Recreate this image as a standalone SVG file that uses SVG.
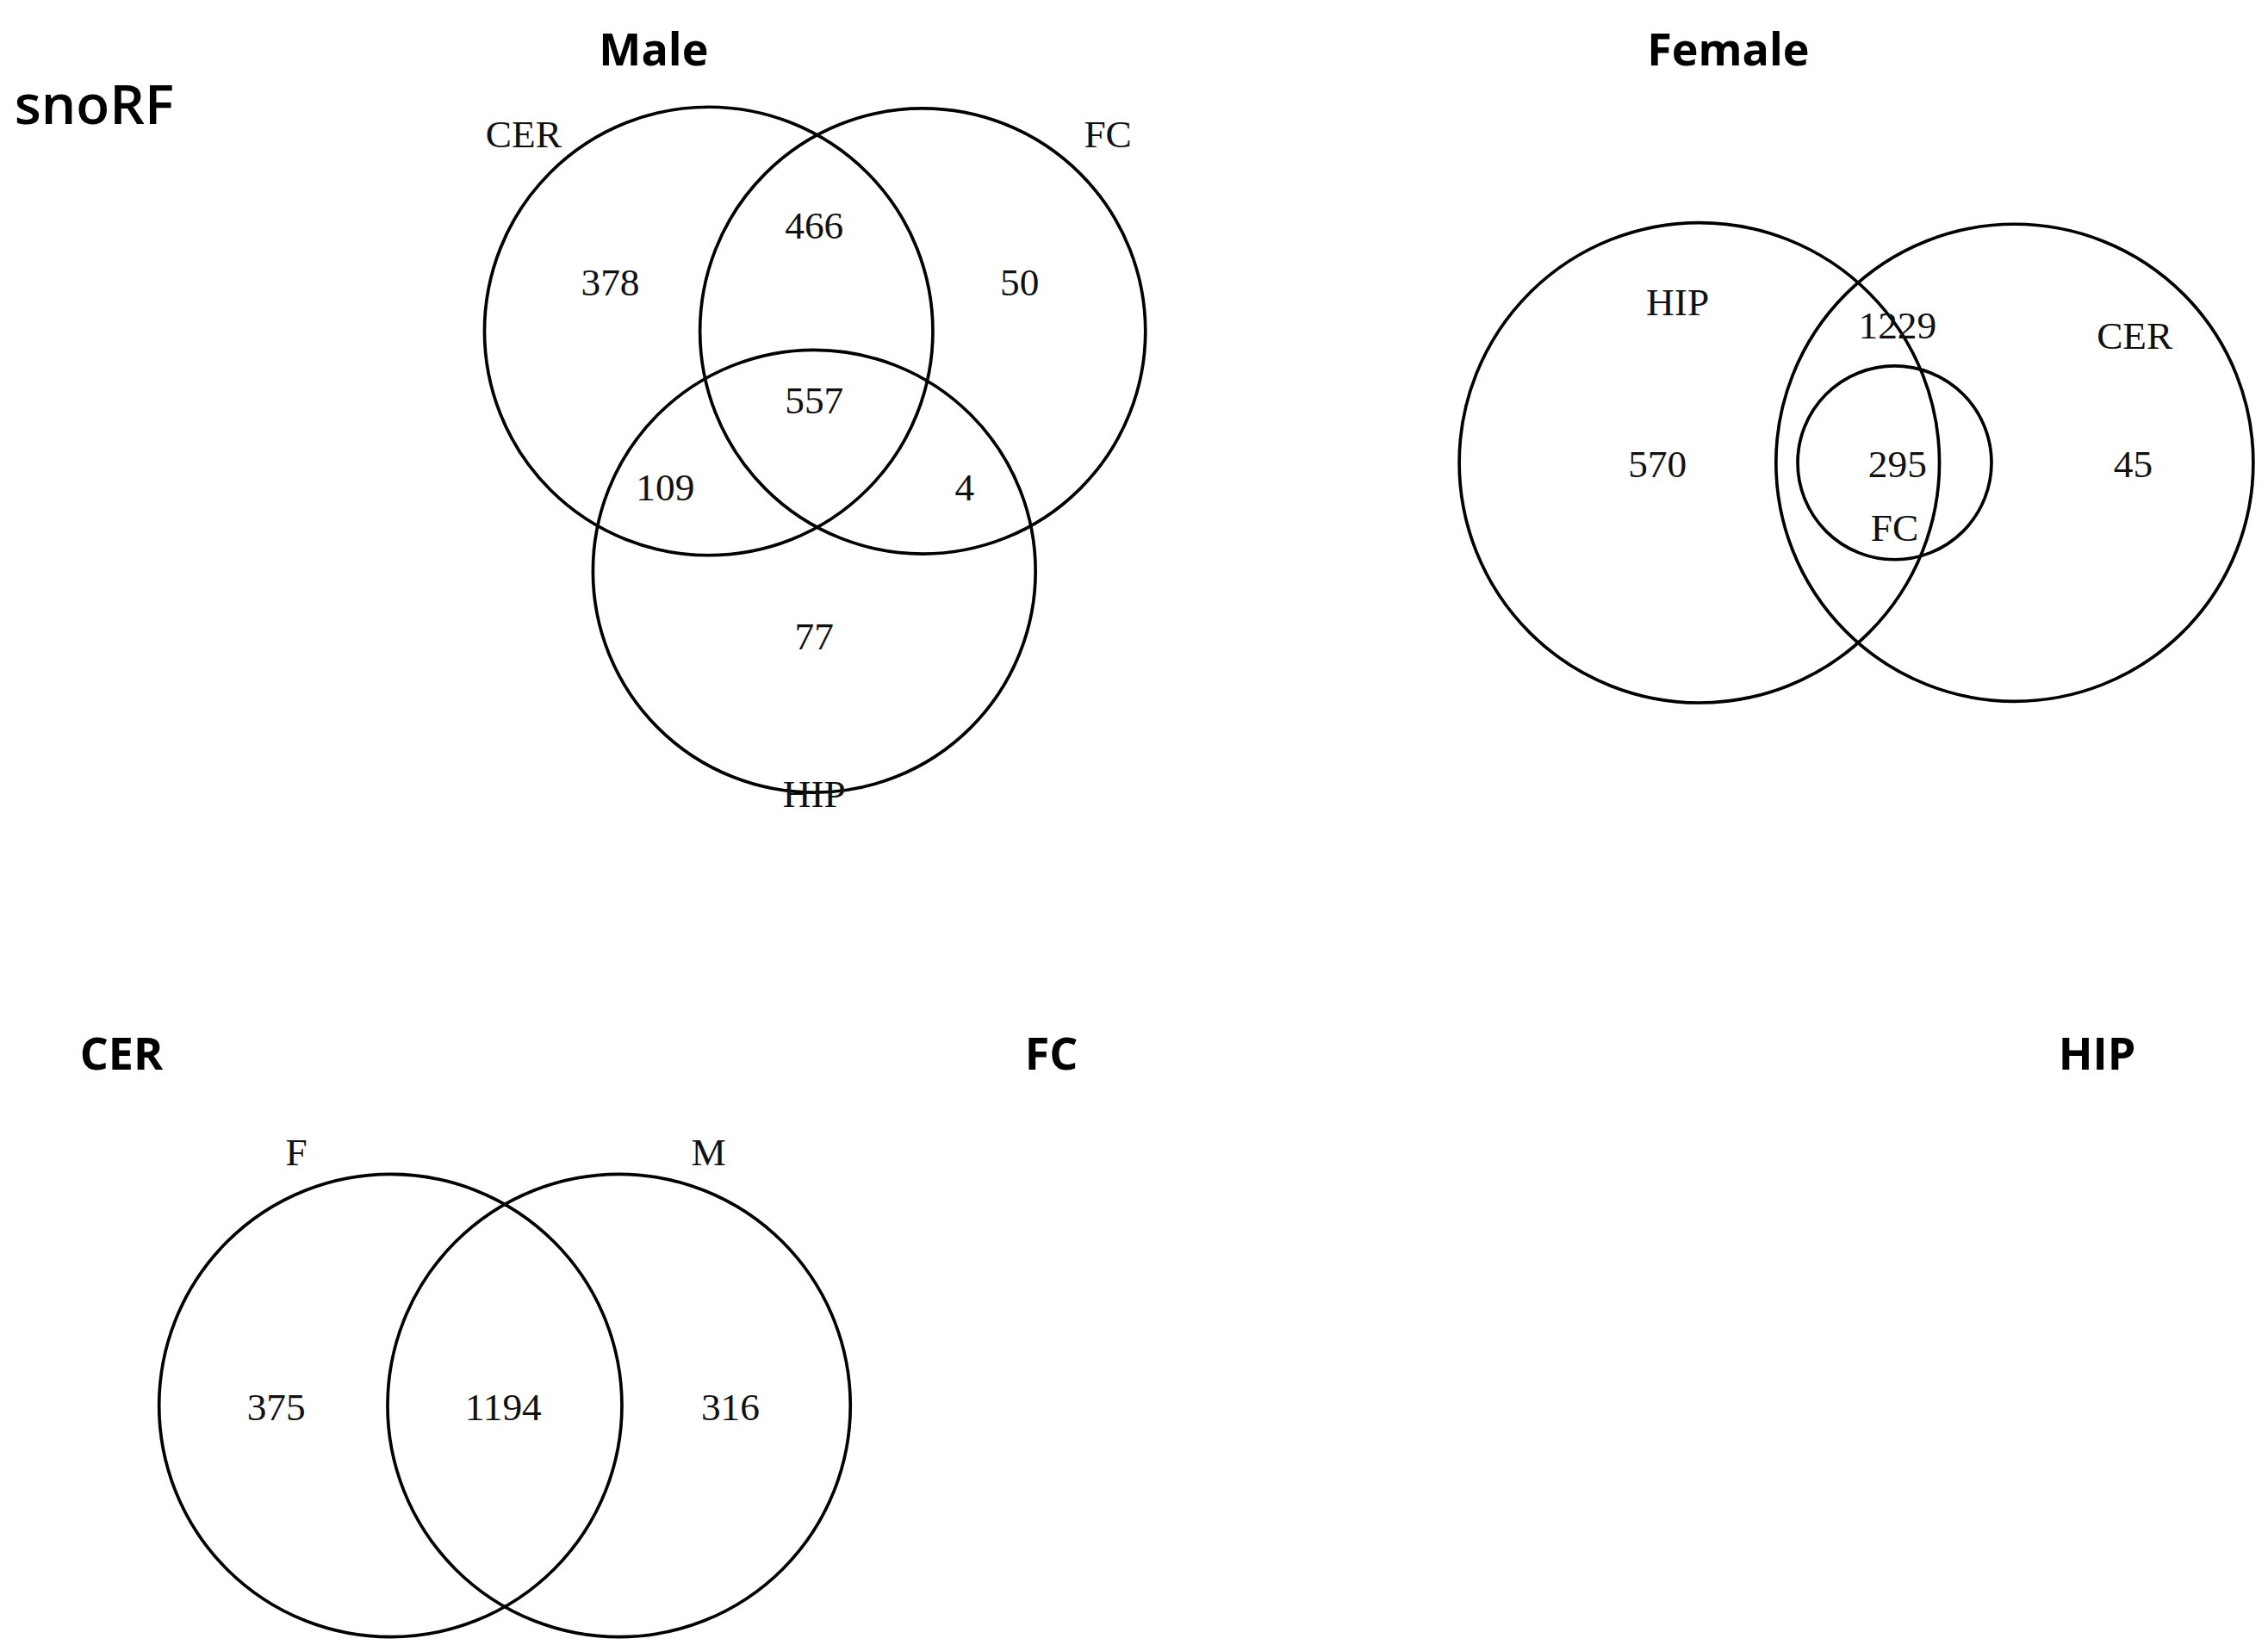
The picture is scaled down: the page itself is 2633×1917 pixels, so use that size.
<svg xmlns="http://www.w3.org/2000/svg" width="2633" height="1917" viewBox="0 0 2633 1917">
<style>
circle{fill:none;stroke:#000;stroke-width:2.2}
.s{font-family:"Liberation Serif",serif;font-size:27px;text-anchor:middle;fill:#111}
.h{font-family:"Open Sans","Liberation Sans",sans-serif;font-size:31px;font-weight:bold;text-anchor:middle}
</style>
<rect width="2633" height="1917" fill="#fff"/>
<g transform="scale(1.679)">
<text x="10" y="86" font-family="Open Sans, Liberation Sans, sans-serif" font-size="38" font-weight="600">snoRF</text>
<g id="male">
<text class="h" x="452" y="45">Male</text>
<circle cx="490" cy="229" r="155"/>
<circle cx="638" cy="229" r="154"/>
<circle cx="563" cy="395" r="153"/>
<text class="s" x="362" y="102">CER</text>
<text class="s" x="766" y="102">FC</text>
<text class="s" x="563" y="558">HIP</text>
<text class="s" x="422" y="204">378</text>
<text class="s" x="563" y="165">466</text>
<text class="s" x="705" y="204">50</text>
<text class="s" x="563" y="286">557</text>
<text class="s" x="460" y="346">109</text>
<text class="s" x="667" y="346">4</text>
<text class="s" x="563" y="449">77</text>
</g>
<g id="female">
<text class="h" x="1195" y="45">Female</text>
<circle cx="1175" cy="320" r="166"/>
<circle cx="1393" cy="320" r="165"/>
<circle cx="1310" cy="320" r="67"/>
<text class="s" x="1160" y="218">HIP</text>
<text class="s" x="1476" y="241">CER</text>
<text class="s" x="1312" y="234">1229</text>
<text class="s" x="1146" y="330">570</text>
<text class="s" x="1312" y="330">295</text>
<text class="s" x="1310" y="374">FC</text>
<text class="s" x="1475" y="330">45</text>
</g>
<g id="cer">
<text class="h" x="84" y="740">CER</text>
<circle cx="270" cy="972" r="160"/>
<circle cx="428" cy="972" r="160"/>
<text class="s" x="205" y="806">F</text>
<text class="s" x="490" y="806">M</text>
<text class="s" x="191" y="982">375</text>
<text class="s" x="348" y="982">1194</text>
<text class="s" x="505" y="982">316</text>
</g>
<g id="fc"><text class="h" x="727" y="740">FC</text></g>
<g id="hip"><text class="h" x="1450" y="740">HIP</text></g>
</g>
</svg>
